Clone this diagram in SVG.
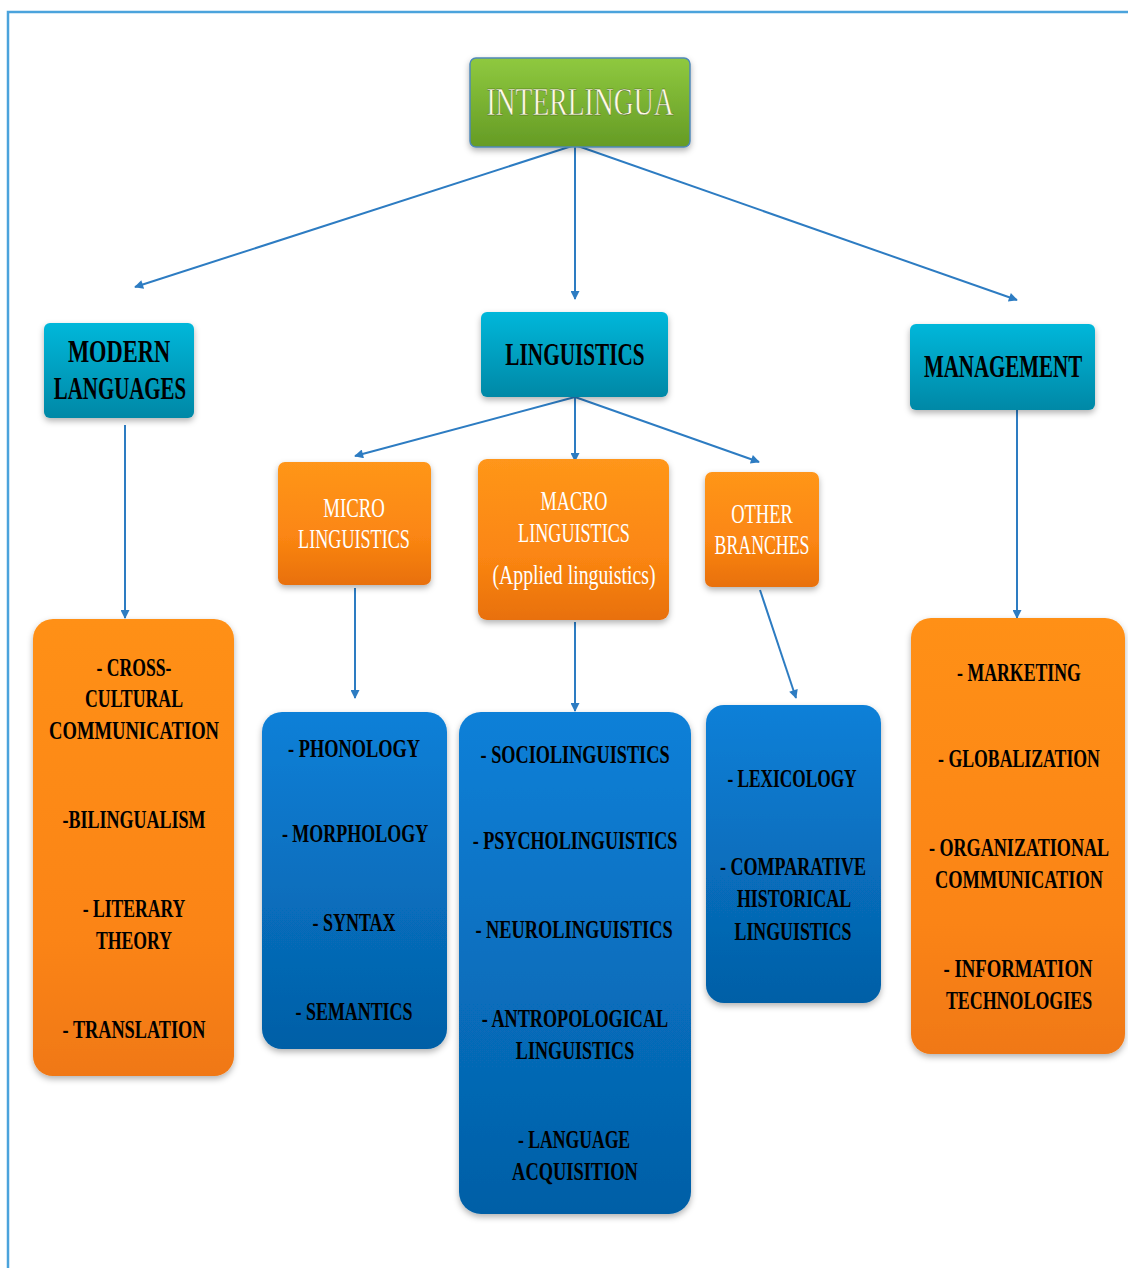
<svg xmlns="http://www.w3.org/2000/svg" width="1128" height="1268" viewBox="0 0 1128 1268">
<defs>
  <linearGradient id="gGreen" x1="0" y1="0" x2="0" y2="1">
    <stop offset="0" stop-color="#8fc93f"/><stop offset="1" stop-color="#659b25"/>
  </linearGradient>
  <linearGradient id="gTeal" x1="0" y1="0" x2="0" y2="1">
    <stop offset="0" stop-color="#00b7da"/><stop offset="1" stop-color="#0088a6"/>
  </linearGradient>
  <linearGradient id="gOrange" x1="0" y1="0" x2="0" y2="1">
    <stop offset="0" stop-color="#ff961a"/><stop offset="0.6" stop-color="#fb8612"/><stop offset="1" stop-color="#e8700c"/>
  </linearGradient>
  <linearGradient id="gOrangeBig" x1="0" y1="0" x2="0" y2="1">
    <stop offset="0" stop-color="#ff9018"/><stop offset="0.7" stop-color="#fb8414"/><stop offset="1" stop-color="#f07812"/>
  </linearGradient>
  <linearGradient id="gBlue" x1="0" y1="0" x2="0" y2="1">
    <stop offset="0" stop-color="#0b80d8"/><stop offset="1" stop-color="#045fa6"/>
  </linearGradient>
  <filter id="sh" x="-10%" y="-10%" width="120%" height="125%">
    <feDropShadow dx="0" dy="3" stdDeviation="3" flood-color="#000" flood-opacity="0.3"/>
  </filter>
  <marker id="arr" viewBox="0 0 10 10" refX="9" refY="5" markerWidth="11" markerHeight="9" orient="auto" markerUnits="userSpaceOnUse">
    <path d="M0,0 L10,5 L0,10 z" fill="#2d7cc2"/>
  </marker>
  <style>
    .conn line { stroke: #2d7cc2; stroke-width: 2; marker-end: url(#arr); }
    .t { font-family: "Liberation Serif", "Times New Roman", serif; text-anchor: middle; }
    .head { font-size: 31px; font-weight: bold; fill: #000; }
    .sub { font-size: 27px; fill: #fff; }
    .item { font-size: 25px; font-weight: bold; fill: #000; }
    .top { font-size: 40px; fill: #fffbe4; stroke: #3b5a12; stroke-width: 0.4; }
  </style>
</defs>

<rect width="1128" height="1268" fill="#fff"/>
<path d="M1128,12 H8 V1268" fill="none" stroke="#4ba3dc" stroke-width="2.5"/>

<g class="conn">
  <line x1="575" y1="145" x2="135" y2="287"/>
  <line x1="575" y1="145" x2="575" y2="299"/>
  <line x1="575" y1="145" x2="1017" y2="300"/>
  <line x1="125" y1="425" x2="125" y2="618"/>
  <line x1="575" y1="397" x2="355" y2="456"/>
  <line x1="575" y1="397" x2="575" y2="461"/>
  <line x1="575" y1="397" x2="759" y2="462"/>
  <line x1="1017" y1="410" x2="1017" y2="618"/>
  <line x1="355" y1="588" x2="355" y2="698"/>
  <line x1="575" y1="622" x2="575" y2="711"/>
  <line x1="760" y1="590" x2="796" y2="698"/>
</g>

<g id="interlingua">
  <rect x="470" y="58" width="220" height="89" rx="6" fill="url(#gGreen)" stroke="#4f88b8" stroke-width="1.5" filter="url(#sh)"/>
  <text class="t top" transform="translate(580,115) scale(0.65,1)" textLength="288" lengthAdjust="spacingAndGlyphs">INTERLINGUA</text>
</g>

<g id="modern-languages">
  <rect x="44" y="323" width="150" height="95" rx="6" fill="url(#gTeal)" filter="url(#sh)"/>
  <text class="t head" transform="translate(119,362) scale(0.7,1)" textLength="146" lengthAdjust="spacingAndGlyphs">MODERN</text>
  <text class="t head" transform="translate(120,399) scale(0.7,1)" textLength="189" lengthAdjust="spacingAndGlyphs">LANGUAGES</text>
</g>

<g id="linguistics">
  <rect x="481" y="312" width="187" height="85" rx="6" fill="url(#gTeal)" filter="url(#sh)"/>
  <text class="t head" transform="translate(575,365) scale(0.7,1)" textLength="199" lengthAdjust="spacingAndGlyphs">LINGUISTICS</text>
</g>

<g id="management">
  <rect x="910" y="324" width="185" height="86" rx="6" fill="url(#gTeal)" filter="url(#sh)"/>
  <text class="t head" transform="translate(1003,377) scale(0.7,1)" textLength="226" lengthAdjust="spacingAndGlyphs">MANAGEMENT</text>
</g>

<g id="micro-linguistics">
  <rect x="278" y="462" width="153" height="123" rx="7" fill="url(#gOrange)" filter="url(#sh)"/>
  <text class="t sub" transform="translate(354,517) scale(0.65,1)" textLength="95" lengthAdjust="spacingAndGlyphs">MICRO</text>
  <text class="t sub" transform="translate(354,548) scale(0.65,1)" textLength="172" lengthAdjust="spacingAndGlyphs">LINGUISTICS</text>
</g>

<g id="macro-linguistics">
  <rect x="478" y="459" width="191" height="161" rx="9" fill="url(#gOrange)" filter="url(#sh)"/>
  <text class="t sub" transform="translate(574,510) scale(0.65,1)" textLength="103" lengthAdjust="spacingAndGlyphs">MACRO</text>
  <text class="t sub" transform="translate(574,542) scale(0.65,1)" textLength="172" lengthAdjust="spacingAndGlyphs">LINGUISTICS</text>
  <text class="t sub" transform="translate(574,584) scale(0.7,1)" textLength="233" lengthAdjust="spacingAndGlyphs">(Applied linguistics)</text>
</g>

<g id="other-branches">
  <rect x="705" y="472" width="114" height="115" rx="7" fill="url(#gOrange)" filter="url(#sh)"/>
  <text class="t sub" transform="translate(762,523) scale(0.65,1)" textLength="95" lengthAdjust="spacingAndGlyphs">OTHER</text>
  <text class="t sub" transform="translate(762,554) scale(0.65,1)" textLength="146" lengthAdjust="spacingAndGlyphs">BRANCHES</text>
</g>

<g id="modern-languages-list">
  <rect x="33" y="619" width="201" height="457" rx="20" fill="url(#gOrangeBig)" filter="url(#sh)"/>
  <text class="t item" transform="translate(134,676) scale(0.68,1)" textLength="110" lengthAdjust="spacingAndGlyphs">- CROSS-</text>
  <text class="t item" transform="translate(134,707) scale(0.68,1)" textLength="144" lengthAdjust="spacingAndGlyphs">CULTURAL</text>
  <text class="t item" transform="translate(134,739) scale(0.68,1)" textLength="250" lengthAdjust="spacingAndGlyphs">COMMUNICATION</text>
  <text class="t item" transform="translate(134,828) scale(0.68,1)" textLength="210" lengthAdjust="spacingAndGlyphs">-BILINGUALISM</text>
  <text class="t item" transform="translate(134,917) scale(0.68,1)" textLength="151" lengthAdjust="spacingAndGlyphs">- LITERARY</text>
  <text class="t item" transform="translate(134,949) scale(0.68,1)" textLength="112" lengthAdjust="spacingAndGlyphs">THEORY</text>
  <text class="t item" transform="translate(134,1038) scale(0.68,1)" textLength="210" lengthAdjust="spacingAndGlyphs">- TRANSLATION</text>
</g>

<g id="micro-list">
  <rect x="262" y="712" width="185" height="337" rx="20" fill="url(#gBlue)" filter="url(#sh)"/>
  <text class="t item" transform="translate(354,757) scale(0.68,1)" textLength="194" lengthAdjust="spacingAndGlyphs">- PHONOLOGY</text>
  <text class="t item" transform="translate(355,842) scale(0.68,1)" textLength="215" lengthAdjust="spacingAndGlyphs">- MORPHOLOGY</text>
  <text class="t item" transform="translate(354,931) scale(0.68,1)" textLength="122" lengthAdjust="spacingAndGlyphs">- SYNTAX</text>
  <text class="t item" transform="translate(354,1020) scale(0.68,1)" textLength="172" lengthAdjust="spacingAndGlyphs">- SEMANTICS</text>
</g>

<g id="macro-list">
  <rect x="459" y="712" width="232" height="502" rx="22" fill="url(#gBlue)" filter="url(#sh)"/>
  <text class="t item" transform="translate(575,763) scale(0.68,1)" textLength="278" lengthAdjust="spacingAndGlyphs">- SOCIOLINGUISTICS</text>
  <text class="t item" transform="translate(575,849) scale(0.68,1)" textLength="301" lengthAdjust="spacingAndGlyphs">- PSYCHOLINGUISTICS</text>
  <text class="t item" transform="translate(574,938) scale(0.68,1)" textLength="290" lengthAdjust="spacingAndGlyphs">- NEUROLINGUISTICS</text>
  <text class="t item" transform="translate(575,1027) scale(0.68,1)" textLength="274" lengthAdjust="spacingAndGlyphs">- ANTROPOLOGICAL</text>
  <text class="t item" transform="translate(575,1059) scale(0.68,1)" textLength="174" lengthAdjust="spacingAndGlyphs">LINGUISTICS</text>
  <text class="t item" transform="translate(574,1148) scale(0.68,1)" textLength="165" lengthAdjust="spacingAndGlyphs">- LANGUAGE</text>
  <text class="t item" transform="translate(575,1180) scale(0.68,1)" textLength="185" lengthAdjust="spacingAndGlyphs">ACQUISITION</text>
</g>

<g id="other-list">
  <rect x="706" y="705" width="175" height="298" rx="18" fill="url(#gBlue)" filter="url(#sh)"/>
  <text class="t item" transform="translate(792,787) scale(0.68,1)" textLength="190" lengthAdjust="spacingAndGlyphs">- LEXICOLOGY</text>
  <text class="t item" transform="translate(793,875) scale(0.68,1)" textLength="215" lengthAdjust="spacingAndGlyphs">- COMPARATIVE</text>
  <text class="t item" transform="translate(794,907) scale(0.68,1)" textLength="168" lengthAdjust="spacingAndGlyphs">HISTORICAL</text>
  <text class="t item" transform="translate(793,940) scale(0.68,1)" textLength="172" lengthAdjust="spacingAndGlyphs">LINGUISTICS</text>
</g>

<g id="management-list">
  <rect x="911" y="618" width="214" height="436" rx="20" fill="url(#gOrangeBig)" filter="url(#sh)"/>
  <text class="t item" transform="translate(1019,681) scale(0.68,1)" textLength="182" lengthAdjust="spacingAndGlyphs">- MARKETING</text>
  <text class="t item" transform="translate(1019,767) scale(0.68,1)" textLength="238" lengthAdjust="spacingAndGlyphs">- GLOBALIZATION</text>
  <text class="t item" transform="translate(1019,856) scale(0.68,1)" textLength="265" lengthAdjust="spacingAndGlyphs">- ORGANIZATIONAL</text>
  <text class="t item" transform="translate(1019,888) scale(0.68,1)" textLength="247" lengthAdjust="spacingAndGlyphs">COMMUNICATION</text>
  <text class="t item" transform="translate(1018,977) scale(0.68,1)" textLength="219" lengthAdjust="spacingAndGlyphs">- INFORMATION</text>
  <text class="t item" transform="translate(1019,1009) scale(0.68,1)" textLength="215" lengthAdjust="spacingAndGlyphs">TECHNOLOGIES</text>
</g>
</svg>
